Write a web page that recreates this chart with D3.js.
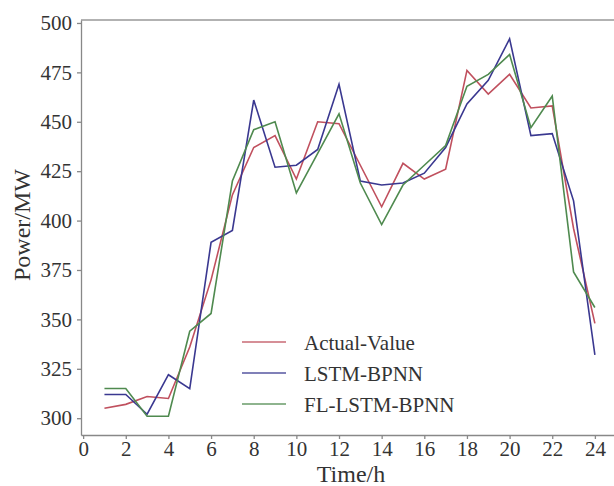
<meta charset="utf-8">
<html lang="en">
<head>
    <meta charset="utf-8">
    <style>
        body { margin: 0; background: #fff; }
        svg { display: block; }
        .axis path, .axis line { stroke: #888; stroke-width: 1.3; }
    </style>
</head>
<body>
    <div id="my_dataviz"></div>
    <script src="https://d3js.org/d3.v7.min.js"></script>
    <script>
        // hours
        var hours = [1, 2, 3, 4, 5, 6, 7, 8, 9, 10, 11, 12, 13, 14, 15, 16, 17, 18, 19, 20, 21, 22, 23, 24];

        // series values (MW)
        var actualValue = [305, 307, 311, 310, 336, 370, 413, 437, 443, 421, 450, 449, 428, 407, 429, 421, 426, 476, 464, 474, 457, 458, 396, 348];
        var lstmBpnn = [312, 312, 302, 322, 315, 389, 395, 461, 427, 428, 436, 469, 420, 418, 419, 424, 437, 459, 471, 492, 443, 444, 410, 332];
        var flLstmBpnn = [315, 315, 301, 301, 344, 353, 420, 446, 450, 414, 434, 454, 419, 398, 418, 428, 438, 468, 474, 484, 447, 463, 374, 356];

        var seriesNames = ["Actual-Value", "LSTM-BPNN", "FL-LSTM-BPNN"];
        var seriesColors = ["#c0505e", "#3a3890", "#4f8a4f"];

        var xTicks = [0, 2, 4, 6, 8, 10, 12, 14, 16, 18, 20, 22, 24];
        var yTicks = [300, 325, 350, 375, 400, 425, 450, 475, 500];

        var W = 614, H = 486;
        var serif = "'Liberation Serif', 'Times New Roman', serif";

        var svg = d3.select("#my_dataviz")
            .append("svg")
            .attr("width", W)
            .attr("height", H);

        // x: 0 -> ~83px, 24 -> ~595px, plot runs past the right edge
        var x = d3.scaleLinear()
            .domain([-0.1, 25.6])
            .range([81, 629]);

        var y = d3.scaleLinear()
            .domain([291.5, 501.5])
            .range([435, 20]);

        // top spine
        svg.append("line")
            .attr("x1", 81).attr("x2", 629)
            .attr("y1", 20).attr("y2", 20)
            .attr("stroke", "#999")
            .attr("stroke-width", 1.3);

        var xAxis = svg.append("g")
            .attr("class", "axis")
            .attr("transform", "translate(0,435)")
            .call(d3.axisBottom(x).tickValues(xTicks).tickSize(4).tickSizeOuter(0).tickPadding(2));

        var yAxis = svg.append("g")
            .attr("class", "axis")
            .attr("transform", "translate(81,0)")
            .call(d3.axisLeft(y).tickValues(yTicks).tickSize(4).tickSizeOuter(0).tickPadding(5));

        svg.selectAll(".axis").attr("font-family", null).attr("font-size", null);
        svg.selectAll(".axis text")
            .style("font-family", serif)
            .style("font-size", "21px")
            .style("fill", "#333");

        // axis labels
        svg.append("text")
            .attr("x", 351)
            .attr("y", 482)
            .attr("text-anchor", "middle")
            .style("font-family", serif)
            .style("font-size", "24px")
            .style("fill", "#333")
            .text("Time/h");

        svg.append("text")
            .attr("transform", "translate(30,225) rotate(-90)")
            .attr("text-anchor", "middle")
            .style("font-family", serif)
            .style("font-size", "24px")
            .style("fill", "#333")
            .text("Power/MW");

        var dataReady = [actualValue, lstmBpnn, flLstmBpnn].map(function (vals, i) {
            return {
                name: seriesNames[i],
                color: seriesColors[i],
                values: hours.map(function (h, j) { return { time: h, value: vals[j] }; })
            };
        });

        var line = d3.line()
            .x(function (d) { return x(d.time) })
            .y(function (d) { return y(d.value) });

        svg.selectAll("myLines")
            .data(dataReady)
            .enter()
            .append("path")
            .attr("d", function (d) { return line(d.values) })
            .attr("stroke", function (d) { return d.color })
            .style("stroke-width", 1.6)
            .style("fill", "none");

        // legend
        var legend = svg.selectAll("myLegend")
            .data(dataReady)
            .enter()
            .append("g")
            .attr("transform", function (d, i) { return "translate(242," + (342 + i * 31) + ")"; });

        legend.append("line")
            .attr("x1", 0).attr("x2", 44)
            .attr("y1", 0).attr("y2", 0)
            .attr("stroke", function (d) { return d.color })
            .style("stroke-width", 1.4)
            .style("opacity", 0.85);

        legend.append("text")
            .attr("x", 62)
            .attr("y", 8)
            .style("font-family", serif)
            .style("font-size", "21px")
            .style("fill", "#333")
            .text(function (d) { return d.name });
    </script>
</body>
</html>
